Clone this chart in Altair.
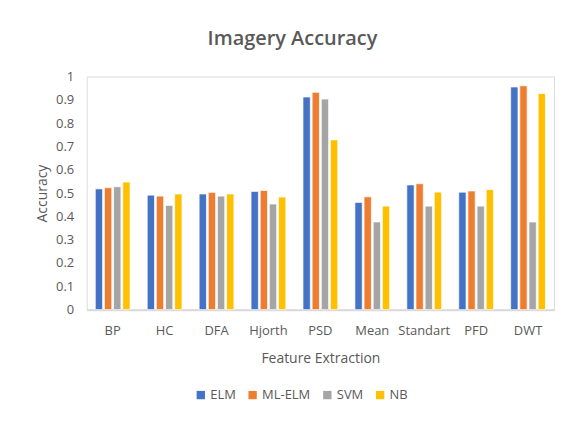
import altair as alt
import pandas as pd

categories = ["BP", "HC", "DFA", "Hjorth", "PSD", "Mean", "Standart", "PFD", "DWT"]
series = ["ELM", "ML-ELM", "SVM", "NB"]
elm = [0.518, 0.491, 0.496, 0.507, 0.912, 0.460, 0.535, 0.504, 0.955]
ml_elm = [0.523, 0.487, 0.503, 0.511, 0.932, 0.484, 0.540, 0.509, 0.960]
svm = [0.527, 0.447, 0.487, 0.453, 0.903, 0.376, 0.444, 0.444, 0.376]
nb = [0.547, 0.496, 0.496, 0.483, 0.728, 0.444, 0.504, 0.515, 0.927]
colors = ["#4472C4", "#ED7D31", "#A5A5A5", "#FFC000"]
y_ticks = [0, 0.1, 0.2, 0.3, 0.4, 0.5, 0.6, 0.7, 0.8, 0.9, 1]

rows = []
for s, vals in zip(series, [elm, ml_elm, svm, nb]):
    for c, v in zip(categories, vals):
        rows.append({"Feature": c, "Model": s, "Accuracy": v})
df = pd.DataFrame(rows)

FONT = "Open Sans"
GRAY = "#595959"

chart = alt.Chart(df).mark_bar(stroke="white", strokeWidth=1, strokeOpacity=0.7).encode(
    x=alt.X("Feature:N", sort=categories,
            scale=alt.Scale(paddingInner=0.33, paddingOuter=0.165),
            axis=alt.Axis(title="Feature Extraction", labelAngle=0, ticks=False,
                          domainColor="#D9D9D9", domainWidth=2,
                          labelFont=FONT, labelFontSize=13, labelColor=GRAY, labelPadding=15,
                          titleFont=FONT, titleFontSize=14, titleFontWeight="normal",
                          titleColor=GRAY, titlePadding=14)),
    xOffset=alt.XOffset("Model:N", sort=series, scale=alt.Scale(paddingInner=0.2)),
    y=alt.Y("Accuracy:Q", scale=alt.Scale(domain=[0, 1], nice=False),
            axis=alt.Axis(values=y_ticks, grid=False, domain=False, ticks=False,
                          labelExpr="datum.value == 0 ? '0' : datum.value == 1 ? '1' : format(datum.value, '.1f')",
                          labelFont=FONT, labelFontSize=13, labelColor=GRAY, labelPadding=13,
                          title="Accuracy", titleFont=FONT, titleFontSize=14,
                          titleFontWeight="normal", titleColor=GRAY, titlePadding=6)),
    color=alt.Color("Model:N", sort=series,
                    scale=alt.Scale(domain=series, range=colors),
                    legend=alt.Legend(title=None, orient="none", direction="horizontal",
                                      legendX=108, legendY=313, symbolType="square",
                                      symbolSize=70, symbolStrokeWidth=0,
                                      labelFont=FONT, labelFontSize=13, labelColor=GRAY,
                                      columnPadding=10, labelOffset=3)),
).properties(
    width=469, height=234,
    title=alt.TitleParams("Imagery Accuracy", font=FONT, fontSize=20, fontWeight=600,
                          color=GRAY, dx=-28, offset=22, anchor="middle"),
    autosize=alt.AutoSizeParams(type="none"),
    padding={"left": 79, "top": 68, "right": 5, "bottom": 100},
).configure_view(stroke=None).configure(background="white")

chart.save("out.html", embed_options={"renderer": "svg", "actions": False})
